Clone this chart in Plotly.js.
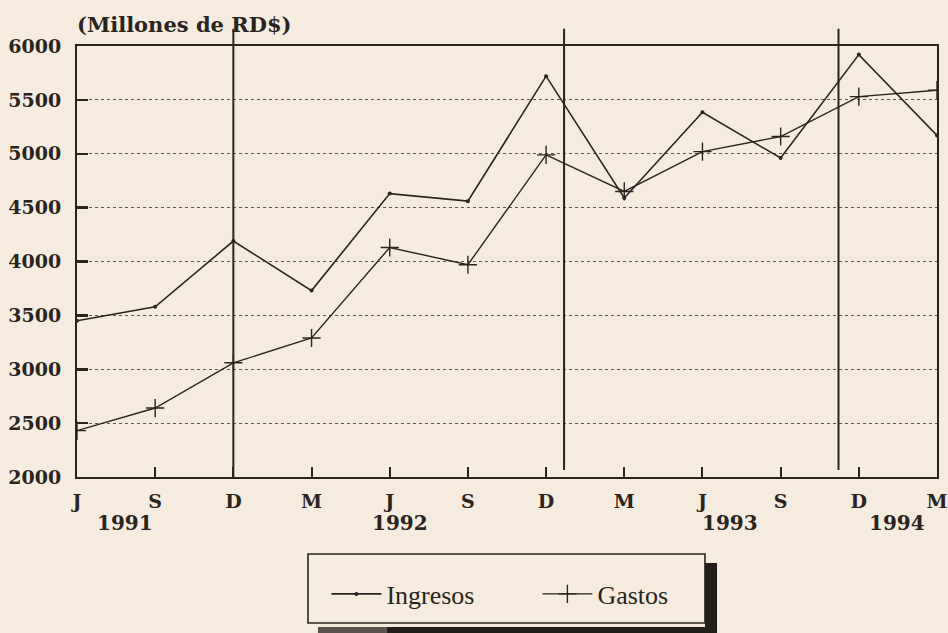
<!DOCTYPE html>
<html>
<head>
<meta charset="utf-8">
<script src="https://cdn.plot.ly/plotly-3.0.1.min.js"></script>
<style>
html,body{margin:0;padding:0;background:#f5ecdf;}
#chart{width:948px;height:633px;}
</style>
</head>
<body>
<div id="chart"></div>
<script>
// ---- data ----
const categories = ['J','S','D','M','J','S','D','M','J','S','D','M'];
const ingresos = [3450, 3580, 4190, 3730, 4630, 4560, 5720, 4590, 5385, 4960, 5920, 5170];
const gastos   = [2430, 2640, 3060, 3290, 4130, 3970, 4990, 4650, 5020, 5160, 5530, 5590];
const seriesNames = ['Ingresos', 'Gastos'];
const yearLabels = ['1991', '1992', '1993', '1994'];
const yTicks = [2000, 2500, 3000, 3500, 4000, 4500, 5000, 5500, 6000];

// ---- layout helpers ----
const ink = '#2a2420';
const paperBg = '#f5ecdf';
const serif = 'DejaVu Serif';
const xIdx = categories.map((_, i) => i);
const yearPos = [0.61, 4.13, 8.35, 10.49];
const separators = [2, 6.23, 9.74];

const traces = [
  {
    x: xIdx, y: ingresos, name: seriesNames[0], type: 'scatter', mode: 'lines+markers',
    line: {color: ink, width: 1.6},
    marker: {symbol: 'circle', size: 4, color: ink}
  },
  {
    x: xIdx, y: gastos, name: seriesNames[1], type: 'scatter', mode: 'lines+markers',
    line: {color: ink, width: 1.4},
    marker: {symbol: 'cross-thin', size: 13, line: {color: ink, width: 1.4}}
  }
];

const shapes = [];
separators.forEach((s, i) => {
  shapes.push({type: 'line', xref: 'x', yref: 'paper', x0: s, x1: s,
    y0: i === 0 ? 0 : 0.016, y1: 1.04, line: {color: ink, width: 2}});
});
// legend frame + shadow
shapes.push({type: 'rect', xref: 'paper', yref: 'paper', x0: 0.7302, x1: 0.7442, y0: -0.362, y1: -0.1995,
  line: {width: 0}, fillcolor: '#231d18'});
shapes.push({type: 'rect', xref: 'paper', yref: 'paper', x0: 0.3605, x1: 0.7442, y0: -0.362, y1: -0.348,
  line: {width: 0}, fillcolor: '#231d18'});
shapes.push({type: 'rect', xref: 'paper', yref: 'paper', x0: 0.2802, x1: 0.3605, y0: -0.362, y1: -0.348,
  line: {width: 0}, fillcolor: '#5a534c'});
shapes.push({type: 'rect', xref: 'paper', yref: 'paper', x0: 0.2686, x1: 0.7302, y0: -0.3387, y1: -0.1787,
  line: {color: ink, width: 1.6}, fillcolor: paperBg});

const annotations = [
  {text: '<b>(Millones de RD$)</b>', xref: 'paper', yref: 'paper', x: -0.002, y: 1.051,
   xanchor: 'left', yanchor: 'middle', showarrow: false,
   font: {family: serif, size: 21, color: ink}}
];
yearLabels.forEach((t, i) => {
  annotations.push({text: '<b>' + t + '</b>', xref: 'x', yref: 'paper', x: yearPos[i], y: -0.107,
    xanchor: 'center', yanchor: 'middle', showarrow: false,
    font: {family: serif, size: 20, color: ink}});
});

const layout = {
  width: 948, height: 633,
  font: {family: serif, color: ink},
  paper_bgcolor: paperBg, plot_bgcolor: paperBg,
  margin: {l: 77, r: 11, t: 46, b: 156},
  showlegend: true,
  legend: {
    orientation: 'h', x: 0.29, y: -0.2715, xanchor: 'left', yanchor: 'middle',
    bgcolor: 'rgba(0,0,0,0)', borderwidth: 0,
    font: {family: 'Liberation Serif', size: 26, color: ink, weight: 'normal'},
    itemwidth: 50, entrywidth: 146, entrywidthmode: 'pixels'
  },
  xaxis: {
    range: [0, 11], tickvals: xIdx, ticktext: categories,
    showgrid: false, zeroline: false,
    showline: true, linecolor: ink, linewidth: 2, mirror: true,
    ticks: 'inside', ticklen: 10, tickwidth: 2, tickcolor: ink,
    ticklabelstandoff: 6,
    tickfont: {family: serif, size: 19, color: ink, weight: 'bold'}
  },
  yaxis: {
    range: [2000, 6000], tickvals: yTicks,
    showgrid: true, gridcolor: '#5f5852', gridwidth: 1, griddash: 'dot',
    zeroline: false,
    showline: true, linecolor: ink, linewidth: 2, mirror: true,
    ticks: 'inside', ticklen: 11, tickwidth: 2.5, tickcolor: ink,
    ticklabelstandoff: 10,
    tickfont: {family: serif, size: 19, color: ink, weight: 'bold'}
  },
  shapes: shapes,
  annotations: annotations
};

Plotly.newPlot('chart', traces, layout, {displayModeBar: false, staticPlot: true});
</script>
</body>
</html>
